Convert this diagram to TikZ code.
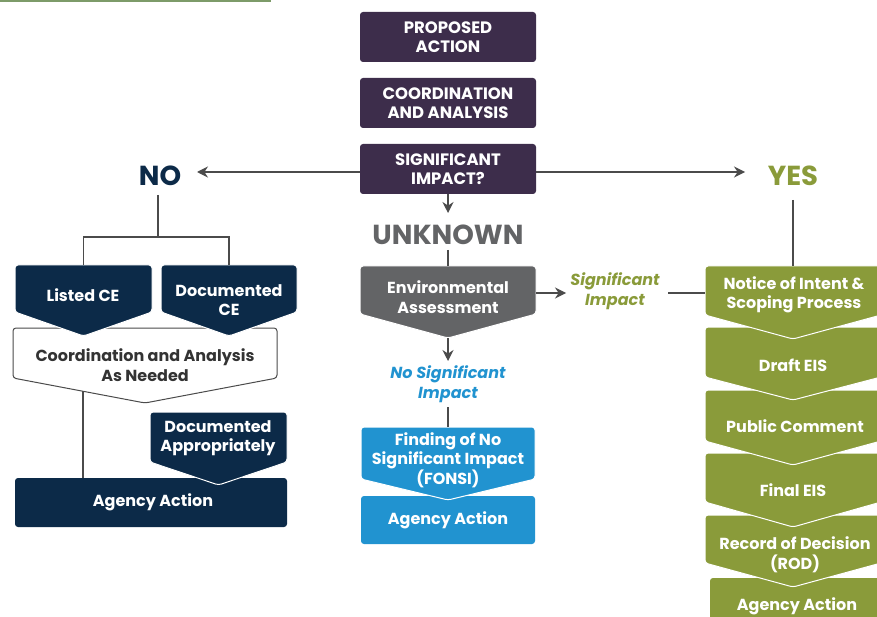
\documentclass[tikz,border=0pt]{standalone}
\usepackage{fontspec}
\setmainfont{Poppins}
\usetikzlibrary{arrows.meta}
\definecolor{purp}{RGB}{61,45,75}
\definecolor{navy}{RGB}{12,42,72}
\definecolor{olive}{RGB}{138,155,58}
\definecolor{fblue}{RGB}{33,147,208}
\definecolor{egrey}{RGB}{99,100,102}
\definecolor{lgrey}{RGB}{75,75,75}
\definecolor{topgreen}{RGB}{125,155,105}
\newcommand{\chev}[7]{%
  \path[#7] (#2,#4) -- (#3,#4) -- (#3,#5) -- ({(#2+#3)/2},#6) -- (#2,#5) -- cycle;
  \coordinate (#1-t) at ({(#2+#3)/2},#4);
  \coordinate (#1-b) at ({(#2+#3)/2},#6);
  \coordinate (#1-l) at (#2,{(#4+#5)/2});
  \coordinate (#1-r) at (#3,{(#4+#5)/2});
}
\tikzset{
  chevfill/.style={fill=#1, draw=white, line width=1pt, rounded corners=3pt},
  wt/.style={text=white, align=center, font=\bfseries\fontsize{16}{19.5}\selectfont, inner sep=0pt},
  pbox/.style={fill=purp, rounded corners=3pt, minimum width=176pt, minimum height=50pt, inner sep=0pt,
     text=white, align=center, font=\bfseries\fontsize{16.5}{19.5}\selectfont},
  conn/.style={draw=lgrey, line width=1.3pt},
  arr/.style={conn, -{Stealth[length=11pt,width=11pt]}},
  big/.style={font=\bfseries\fontsize{27.5}{30}\selectfont, inner sep=0pt},
  ital/.style={font=\bfseries\itshape\fontsize{16}{19.5}\selectfont, align=center, inner sep=0pt},
}
\begin{document}
\begin{tikzpicture}[x=1pt,y=-1pt]
\useasboundingbox (0,0) rectangle (877,617);
\fill[topgreen] (0,0) rectangle (271,1.6);

% center column
\node[pbox] (pa) at (448,37) {PROPOSED\\ACTION};
\node[pbox] (ca) at (448,103) {COORDINATION\\AND ANALYSIS};
\node[pbox] (si) at (448,169) {SIGNIFICANT\\IMPACT?};

\node[big, text=navy] (no) at (160,176) {NO};
\node[big, text=olive] (yes) at (793,176) {YES};
\node[big, text=egrey] (unk) at (448,235) {UNKNOWN};

\coordinate (noarr) at (197,172);
\coordinate (yesarr) at (745,172);
\draw[arr] (si.west|-noarr) -- (noarr);
\draw[arr] (si.east|-yesarr) -- (yesarr);
\coordinate (unkarr) at (448,213);
\draw[arr] (si.south) -- (unkarr);

% Environmental assessment
\chev{ea}{360}{536}{266}{314}{338}{chevfill=egrey}
\node[wt] (eat) at (448,297) {Environmental\\Assessment};
\coordinate (unkb) at (448,250);
\draw[conn] (unkb) -- (ea-t);

\node[ital, text=olive] (sigimp) at (615,291) {Significant\\Impact};
\coordinate (sigarr) at (566,293);
\draw[arr] (ea-r|-sigarr) -- (sigarr);

\node[ital, text=fblue] (nsi) at (448,384) {No Significant\\Impact};
\coordinate (nsiarr) at (448,361);
\draw[arr] (ea-b) -- (nsiarr);

% FONSI
\fill[fblue, rounded corners=3pt] (361,496) rectangle (535,544);
\node[wt] (baa) at (448,520) {Agency Action};
\chev{fo}{361}{535}{427}{479}{500}{chevfill=fblue}
\node[wt] (fot) at (448,460) {Finding of No\\Significant Impact\\(FONSI)};
\coordinate (nsib) at (448,407);
\draw[conn] (nsib) -- (fo-t);

% right stack (bottom to top)
\fill[olive, rounded corners=3pt] (710,578) rectangle (886,630);
\node[wt] (gaa) at (797,606) {Agency Action};
\chev{rod}{705}{881}{515}{563}{587}{chevfill=olive}
\node[wt] (rodt) at (795,555) {Record of Decision\\(ROD)};
\chev{fe}{705}{881}{453}{502}{527}{chevfill=olive}
\node[wt] (fet) at (793,490) {Final EIS};
\chev{pc}{705}{881}{390}{441}{465}{chevfill=olive}
\node[wt] (pct) at (795,426) {Public Comment};
\chev{de}{705}{881}{327}{377}{400}{chevfill=olive}
\node[wt] (det) at (793,365) {Draft EIS};
\chev{ni}{705}{881}{266}{315}{339}{chevfill=olive}
\node[wt] (nit) at (794,295) {Notice of Intent \&\\Scoping Process};

\coordinate (yesb) at (793,200);
\draw[conn] (yesb) -- (ni-t);
\coordinate (sigr) at (668,293);
\draw[conn] (sigr) -- (ni-l|-sigr);

% left side
\chev{cn}{13}{277}{328}{378}{403}{draw=lgrey, fill=white, line width=1pt, rounded corners=3pt}
\node[text=black!80, align=center, font=\bfseries\fontsize{16}{19.5}\selectfont, inner sep=0pt] (cnt) at (145,365) {Coordination and Analysis\\As Needed};
\chev{lce}{15}{152}{265}{312}{336}{chevfill=navy}
\node[wt] (lcet) at (83,295) {Listed CE};
\chev{dce}{161}{297}{265}{312}{336}{chevfill=navy}
\node[wt] (dcet) at (229,300) {Documented\\CE};

\coordinate (nob) at (158,195);
\coordinate (j1) at (158,237);
\draw[conn] (nob) -- (j1);
\draw[conn] (lce-t) -- (lce-t|-j1) -- (dce-t|-j1) -- (dce-t);

\fill[navy, rounded corners=3pt] (15,478) rectangle (287,527);
\node[wt] (naa) at (153,502) {Agency Action};
\chev{da}{150}{287}{412}{462}{485}{chevfill=navy}
\node[wt] (dat) at (218,438) {Documented\\Appropriately};

\coordinate (j3) at (83,391);
\coordinate (j4) at (83,478);
\draw[conn] (j3) -- (j4);
\end{tikzpicture}
\end{document}
